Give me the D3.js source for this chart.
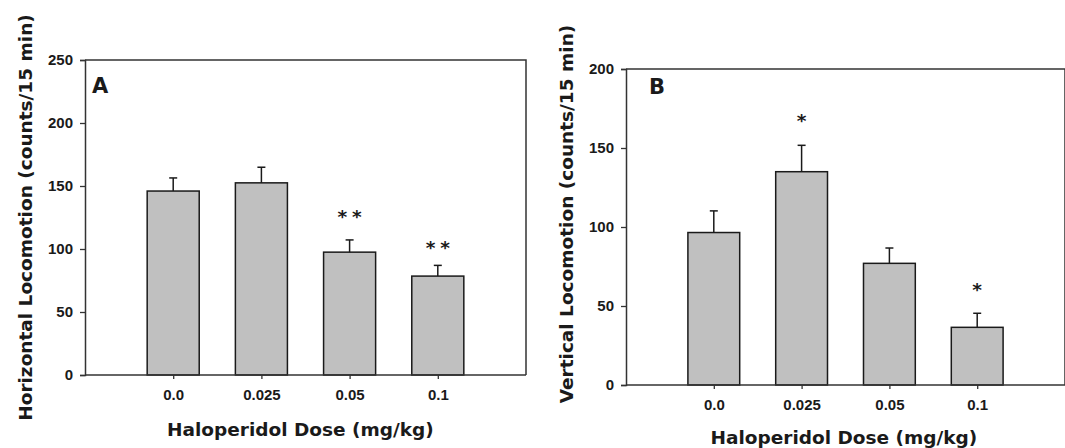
<!DOCTYPE html>
<html>
<head>
<meta charset="utf-8">
<script src="https://cdn.jsdelivr.net/npm/d3@7/dist/d3.min.js"></script>
<style>
  html, body { margin: 0; padding: 0; background: #fff; }
  svg { display: block; }
</style>
</head>
<body>
<svg id="chart" width="1065" height="448"></svg>
<script>
// ---- data ----
const categories = ["0.0", "0.025", "0.05", "0.1"];
const horizMean = [146, 152.5, 97.5, 78.5];
const horizSEM  = [10.4, 12.4, 9.7, 8.5];
const horizSig  = ["", "", "**", "**"];
const horizSigValue = [null, null, 129, 105];
const horizTicks = [0, 50, 100, 150, 200, 250];

const vertMean = [96.5, 135, 77, 36.5];
const vertSEM  = [13.7, 16.7, 9.7, 8.9];
const vertSig  = ["", "*", "", "*"];
const vertSigValue = [null, 170, null, 63];
const vertTicks = [0, 50, 100, 150, 200];

const svg = d3.select("#chart");
const titleFont = "'DejaVu Sans', sans-serif";
const tickFont = "'Liberation Sans', Arial, sans-serif";
const ink = "#1a1a1a";
const axisColor = "#333";

function panel(cfg) {
  const g = svg.append("g");
  const x = d3.scalePoint().domain(categories).range([cfg.left, cfg.right]).padding(1);
  const y = d3.scaleLinear().domain([0, cfg.ymax]).range([cfg.bottom, cfg.top]);
  const step = x.step();
  const bw = step * 0.59;

  const rows = categories.map((c, i) => ({
    cat: c, mean: cfg.mean[i], sem: cfg.sem[i], sig: cfg.sig[i], sigValue: cfg.sigValue[i]
  }));

  // frame (top & right)
  g.append("path")
    .attr("d", `M${cfg.left},${cfg.top}H${cfg.right}V${cfg.bottom}`)
    .attr("fill", "none").attr("stroke", axisColor).attr("stroke-width", 1.5);

  // bars
  g.selectAll("rect.bar").data(rows).join("rect")
    .attr("class", "bar")
    .attr("x", d => x(d.cat) - bw / 2)
    .attr("width", bw)
    .attr("y", d => y(d.mean))
    .attr("height", d => y(0) - y(d.mean))
    .attr("fill", "#c0c0c0")
    .attr("stroke", ink).attr("stroke-width", 1.5);

  // error bars (upper only)
  const eb = g.selectAll("g.err").data(rows).join("g").attr("class", "err");
  eb.append("line")
    .attr("x1", d => x(d.cat)).attr("x2", d => x(d.cat))
    .attr("y1", d => y(d.mean)).attr("y2", d => y(d.mean + d.sem))
    .attr("stroke", ink).attr("stroke-width", 1.5);
  eb.append("line")
    .attr("x1", d => x(d.cat) - 4).attr("x2", d => x(d.cat) + 4)
    .attr("y1", d => y(d.mean + d.sem)).attr("y2", d => y(d.mean + d.sem))
    .attr("stroke", ink).attr("stroke-width", 1.5);

  // significance
  g.selectAll("text.sig").data(rows.filter(d => d.sig !== "")).join("text")
    .attr("class", "sig")
    .attr("x", d => x(d.cat))
    .attr("y", d => y(d.sigValue) + 11)
    .attr("text-anchor", "middle")
    .attr("dx", d => d.sig.length > 1 ? 2.4 : 0)
    .style("letter-spacing", d => d.sig.length > 1 ? "4.8px" : "0px")
    .attr("font-family", titleFont).attr("font-weight", "bold")
    .attr("font-size", 18.5).attr("fill", ink)
    .text(d => d.sig);

  // y axis
  const ya = g.append("g").attr("transform", `translate(${cfg.left},0)`)
    .call(d3.axisLeft(y).tickValues(cfg.ticks).tickSize(5).tickPadding(7).tickFormat(d3.format("d")));
  ya.select(".domain").attr("stroke", axisColor).attr("stroke-width", 1.5);
  ya.selectAll(".tick line").attr("stroke", axisColor).attr("stroke-width", 1.3);
  ya.selectAll(".tick text").attr("font-family", tickFont).attr("font-weight", "bold")
    .attr("font-size", 15).attr("fill", ink);

  // x axis
  const xa = g.append("g").attr("transform", `translate(0,${cfg.bottom})`)
    .call(d3.axisBottom(x).tickSize(4).tickPadding(0).tickSizeOuter(0));
  xa.select(".domain").attr("stroke", axisColor).attr("stroke-width", 1.5)
    .attr("d", `M${cfg.left},0H${cfg.right}`);
  xa.selectAll(".tick line").attr("stroke", axisColor).attr("stroke-width", 1.3);
  xa.selectAll(".tick text").attr("font-family", tickFont).attr("font-weight", "bold")
    .attr("font-size", 15).attr("fill", ink)
    .attr("dy", null).attr("y", cfg.tickBase - cfg.bottom);

  // panel letter
  g.append("text").attr("x", cfg.letterX).attr("y", cfg.letterY)
    .attr("font-family", titleFont).attr("font-weight", "bold").attr("font-size", 21)
    .attr("fill", ink).text(cfg.letter);

  // x title
  g.append("text").attr("x", cfg.xTitleX).attr("y", cfg.xTitleY)
    .attr("font-family", titleFont).attr("font-weight", "bold").attr("font-size", 18.5)
    .attr("fill", ink).text("Haloperidol Dose (mg/kg)");

  // y title
  g.append("text")
    .attr("transform", `translate(${cfg.yTitleX},${cfg.yTitleY}) rotate(-90)`)
    .attr("text-anchor", "middle")
    .attr("font-family", titleFont).attr("font-weight", "bold").attr("font-size", 18.5)
    .attr("fill", ink).text(cfg.yTitle);
}

panel({
  left: 85, right: 526, top: 60, bottom: 375, ymax: 250,
  mean: horizMean, sem: horizSEM, sig: horizSig, sigValue: horizSigValue, ticks: horizTicks,
  tickBase: 400, letter: "A", letterX: 92, letterY: 93,
  xTitleX: 167, xTitleY: 436,
  yTitleX: 32, yTitleY: 217.5, yTitle: "Horizontal Locomotion (counts/15 min)"
});

panel({
  left: 626, right: 1065, top: 69, bottom: 385, ymax: 200,
  mean: vertMean, sem: vertSEM, sig: vertSig, sigValue: vertSigValue, ticks: vertTicks,
  tickBase: 409.5, letter: "B", letterX: 649, letterY: 94,
  xTitleX: 710.5, xTitleY: 443.5,
  yTitleX: 573, yTitleY: 214, yTitle: "Vertical Locomotion (counts/15 min)"
});
</script>
</body>
</html>
